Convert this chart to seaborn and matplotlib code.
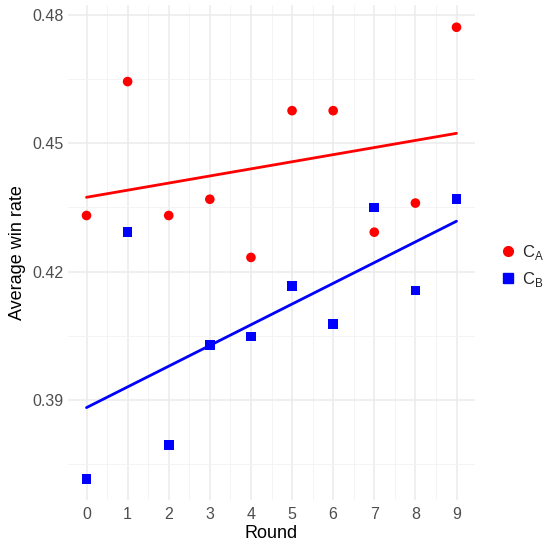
import numpy as np
import pandas as pd
import matplotlib
matplotlib.use("Agg")
import matplotlib.pyplot as plt
import seaborn as sns
from matplotlib.ticker import MultipleLocator

# 数据
rounds = [0, 1, 2, 3, 4, 5, 6, 7, 8, 9]
win_a = [0.4331, 0.4644, 0.4331, 0.4369, 0.4233, 0.4576, 0.4576, 0.4292, 0.4360, 0.4771]
win_b = [0.3715, 0.4292, 0.3794, 0.4029, 0.4048, 0.4166, 0.4078, 0.4350, 0.4156, 0.4370]
labels = [r"C$_\mathregular{A}$", r"C$_\mathregular{B}$"]

df = pd.DataFrame({
    "Round": rounds * 2,
    "rate": win_a + win_b,
    "group": [labels[0]] * len(rounds) + [labels[1]] * len(rounds),
})

sns.set_style("white")
plt.rcParams["font.family"] = ["Liberation Sans", "DejaVu Sans"]
plt.rcParams["mathtext.fontset"] = "custom"
plt.rcParams["mathtext.rm"] = "Liberation Sans"

fig = plt.figure(figsize=(5.45, 5.44), dpi=100)
ax = fig.add_axes([68 / 545, 44 / 544, (475 - 68) / 545, (500 - 5) / 544])

colors = {labels[0]: "#ff0000", labels[1]: "#0000ff"}
markers = {labels[0]: "o", labels[1]: "s"}

# 回归线
for g in labels:
    sub = df[df["group"] == g]
    sns.regplot(data=sub, x="Round", y="rate", ax=ax, ci=None, scatter=False,
                color=colors[g], line_kws={"lw": 2, "zorder": 2})

sns.scatterplot(data=df, x="Round", y="rate", hue="group", style="group",
                palette=colors, markers=markers, s=48, edgecolor="none",
                ax=ax, zorder=3, legend=False)

ax.set_xlim(-0.45, 9.45)
ax.set_ylim(0.3666, 0.4823)
ax.xaxis.set_major_locator(MultipleLocator(1))
ax.xaxis.set_minor_locator(MultipleLocator(0.5))
ax.set_yticks([0.39, 0.42, 0.45, 0.48])
ax.set_yticks([0.375, 0.405, 0.435, 0.465], minor=True)
ax.set_yticklabels(["0.39", "0.42", "0.45", "0.48"])
ax.grid(which="major", color="#ebebeb", lw=1.1)
ax.grid(which="minor", color="#f3f3f3", lw=0.6)
ax.set_axisbelow(True)
for s in ax.spines.values():
    s.set_visible(False)
ax.tick_params(which="both", length=0, labelsize=11.5, colors="#4d4d4d", pad=5)
ax.tick_params(axis="y", pad=3)
ax.set_xlabel("Round", fontsize=13, color="black", labelpad=2)
ax.set_ylabel("Average win rate", fontsize=13, color="black", labelpad=5)

# 图例
handles = [plt.Line2D([], [], ls="", marker=markers[g], color=colors[g], markersize=7)
           for g in labels]
fig.legend(handles, labels, loc="center left", bbox_to_anchor=(499 / 545, 1 - 266 / 544),
           frameon=False, fontsize=12, handletextpad=0.25, labelspacing=0.45,
           handlelength=1.1, borderpad=0, borderaxespad=0)

fig.savefig("out.png", dpi=100)
